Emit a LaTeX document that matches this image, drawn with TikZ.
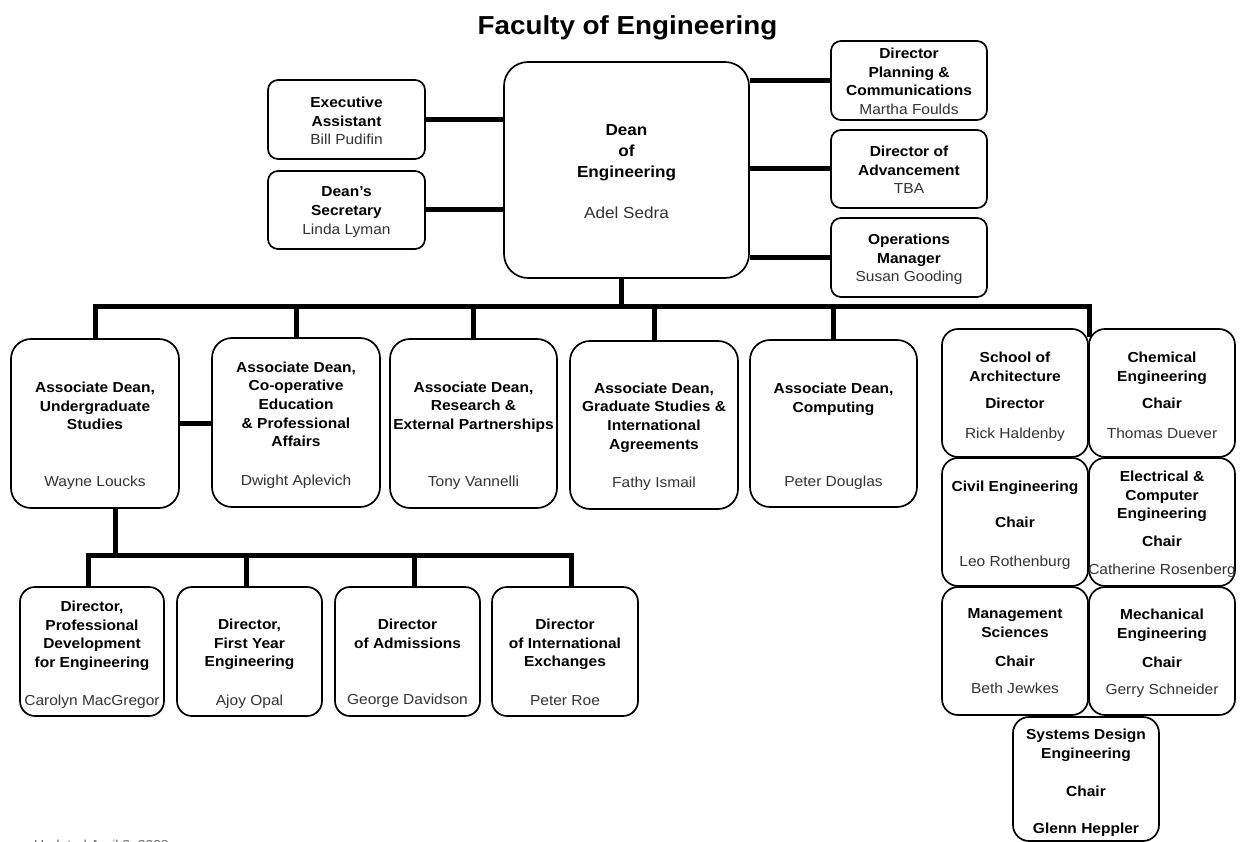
\documentclass[tikz,border=0pt]{standalone}
\usepackage{fontspec}
\newfontfamily\orgfont{Liberation Sans}[FakeStretch=1.07]
\newcommand{\nm}[1]{{\mdseries\color{black!80}#1}}
\begin{document}
\begin{tikzpicture}[x=1pt,y=-1pt,
  bx/.style={draw, line width=1.7pt, rounded corners=#1, inner sep=0pt, fill=white},
  conn/.style={line width=5pt},
  txt/.style={font=\orgfont\bfseries\fontsize{14.5}{18.7}\selectfont, align=center, inner sep=0pt, anchor=north},
  big/.style={font=\orgfont\bfseries\fontsize{16}{21}\selectfont, align=center, inner sep=0pt, anchor=north}]
\useasboundingbox[fill=white] (0,0) rectangle (1241,842);

% title
\node[font=\orgfont\bfseries\fontsize{26}{30}\selectfont, inner sep=0pt, anchor=north] (title) at (627.5,15) {Faculty of Engineering};

% top level boxes
\node[bx=24pt, minimum width=245, minimum height=216] (dean) at (626.5,170) {};
\node[bx=10pt, minimum width=157, minimum height=79] (exec) at (346.5,119.5) {};
\node[bx=10pt, minimum width=157, minimum height=78] (sec) at (346.5,210) {};
\node[bx=10pt, minimum width=156, minimum height=79] (plan) at (909,80.5) {};
\node[bx=10pt, minimum width=156, minimum height=78] (adv) at (909,169) {};
\node[bx=10pt, minimum width=156, minimum height=79] (ops) at (909,257.5) {};

% associate deans
\node[bx=20pt, minimum width=168, minimum height=169] (ug) at (95,423.5) {};
\node[bx=20pt, minimum width=168, minimum height=169] (coop) at (296,422.5) {};
\node[bx=20pt, minimum width=167, minimum height=169] (res) at (473.5,423.5) {};
\node[bx=20pt, minimum width=168, minimum height=168] (grad) at (654,425) {};
\node[bx=20pt, minimum width=167, minimum height=167] (comp) at (833.5,423.5) {};

% directors under UG
\node[bx=15pt, minimum width=144, minimum height=129] (d1) at (92,651.5) {};
\node[bx=15pt, minimum width=145, minimum height=129] (d2) at (249.5,651.5) {};
\node[bx=15pt, minimum width=145, minimum height=129] (d3) at (407.5,651.5) {};
\node[bx=15pt, minimum width=146, minimum height=129] (d4) at (565,651.5) {};

% departments
\node[bx=16pt, minimum width=146, minimum height=128] (arch) at (1015,393) {};
\node[bx=16pt, minimum width=146, minimum height=128] (chem) at (1162,393) {};
\node[bx=16pt, minimum width=146, minimum height=128] (civil) at (1015,522) {};
\node[bx=16pt, minimum width=146, minimum height=128] (elec) at (1162,522) {};
\node[bx=16pt, minimum width=146, minimum height=128] (mgmt) at (1015,651) {};
\node[bx=16pt, minimum width=146, minimum height=128] (mech) at (1162,651) {};
\node[bx=16pt, minimum width=146, minimum height=124] (sys) at (1086,779) {};

% connectors
\draw[conn] (exec.east) -- (exec.east -| dean.west);
\draw[conn] (sec.east) -- (sec.east -| dean.west);
\draw[conn] (plan.west) -- (plan.west -| dean.east);
\draw[conn] (adv.west) -- (adv.west -| dean.east);
\draw[conn] (ops.west) -- (ops.west -| dean.east);

\coordinate (barR) at (1089.5,306);
\coordinate (deptjoin) at (1089.5,337);
\draw[conn] ([xshift=-5.5pt]dean.south) -- ([xshift=-5.5pt]dean.south |- barR);
\draw[conn] (ug.north) |- (barR) -- (deptjoin);
\draw[conn] (coop.north) -- (coop.north |- barR);
\draw[conn] (res.north) -- (res.north |- barR);
\draw[conn] (grad.north) -- (grad.north |- barR);
\draw[conn] (comp.north) -- (comp.north |- barR);

\draw[conn] (ug.east) -- (ug.east -| coop.west);

\coordinate (lowL) at (88.5,555);
\coordinate (lowR) at (571,555);
\draw[conn] ([xshift=20pt]ug.south) -- ([xshift=20pt]ug.south |- lowL);
\draw[conn] (d1.north -| lowL) -- (lowL) -- (lowR) -- (d4.north -| lowR);
\draw[conn] ([xshift=-3.5pt]d2.north) -- ([xshift=-3.5pt]d2.north |- lowL);
\draw[conn] ([xshift=6.5pt]d3.north) -- ([xshift=6.5pt]d3.north |- lowL);

% texts
\node[txt] (exec-t) at (346.5,96.7) {Executive\\Assistant\\\nm{Bill Pudifin}};
\node[txt] (sec-t) at (346.5,186.7) {Dean’s\\Secretary\\\nm{Linda Lyman}};
\node[big] (dean-t) at (626.5,124.2) {Dean\\of\\Engineering\\[20pt]\nm{Adel Sedra}};
\node[txt] (plan-t) at (909,47.7) {Director\\Planning \&\\Communications\\\nm{Martha Foulds}};
\node[txt] (adv-t) at (909,145.7) {Director of\\Advancement\\\nm{TBA}};
\node[txt] (ops-t) at (909,233.7) {Operations\\Manager\\\nm{Susan Gooding}};

\node[txt] (ug-t) at (95,381.7) {Associate Dean,\\Undergraduate\\Studies\\[38.3pt]\nm{Wayne Loucks}};
\node[txt] (coop-t) at (296,361.4) {Associate Dean,\\Co-operative\\Education\\\& Professional\\Affairs\\[19.5pt]\nm{Dwight Aplevich}};
\node[txt] (res-t) at (473.5,381.4) {Associate Dean,\\Research \&\\External Partnerships\\[38.3pt]\nm{Tony Vannelli}};
\node[txt] (grad-t) at (654,382.4) {Associate Dean,\\Graduate Studies \&\\International\\Agreements\\[19.5pt]\nm{Fathy Ismail}};
\node[txt] (comp-t) at (833.5,382.7) {Associate Dean,\\Computing\\[56pt]\nm{Peter Douglas}};

\node[txt] (d1-t) at (92,600.7) {Director,\\Professional\\Development\\for Engineering\\[19.5pt]\nm{Carolyn MacGregor}};
\node[txt] (d2-t) at (249.5,618.7) {Director,\\First Year\\Engineering\\[19.5pt]\nm{Ajoy Opal}};
\node[txt] (d3-t) at (407.5,618.7) {Director\\of Admissions\\[37.5pt]\nm{George Davidson}};
\node[txt] (d4-t) at (565,618.7) {Director\\of International\\Exchanges\\[19.5pt]\nm{Peter Roe}};

\node[txt] (arch-t) at (1015,351.7) {School of\\Architecture\\[8.3pt]Director\\[11.3pt]\nm{Rick Haldenby}};
\node[txt] (chem-t) at (1162,351.7) {Chemical\\Engineering\\[8.3pt]Chair\\[11.3pt]\nm{Thomas Duever}};
\node[txt] (civil-t) at (1015,480.7) {Civil Engineering\\[17.3pt]Chair\\[20.3pt]\nm{Leo Rothenburg}};
\node[txt] (elec-t) at (1162,470.7) {Electrical \&\\Computer\\Engineering\\[9.3pt]Chair\\[9.3pt]\nm{Catherine Rosenberg}};
\node[txt] (mgmt-t) at (1015,608.7) {Management\\Sciences\\[10.3pt]Chair\\[8.3pt]\nm{Beth Jewkes}};
\node[txt] (mech-t) at (1162,608.7) {Mechanical\\Engineering\\[10.3pt]Chair\\[8.3pt]\nm{Gerry Schneider}};
\node[txt] (sys-t) at (1086,728.7) {Systems Design\\Engineering\\[19.3pt]Chair\\[18.3pt]Glenn Heppler};

% footer (cut off at the page edge)
\node[font=\orgfont\fontsize{13}{15}\selectfont, text=black!60, inner sep=0pt, anchor=north west] (upd) at (34,839.5) {Updated April 8, 2008};
\end{tikzpicture}
\end{document}
